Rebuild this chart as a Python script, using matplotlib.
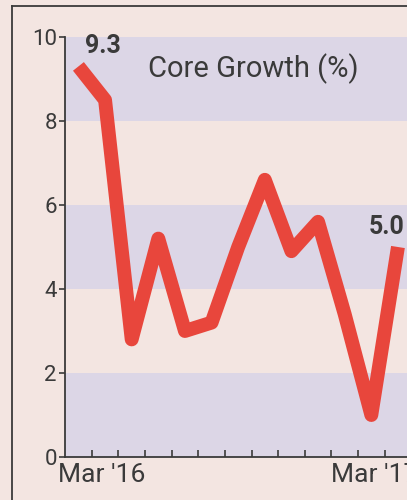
import matplotlib.pyplot as plt
from matplotlib.lines import Line2D
import matplotlib.transforms as mtransforms

months = ["Mar '16", "Apr", "May", "Jun", "Jul", "Aug", "Sep",
          "Oct", "Nov", "Dec", "Jan", "Feb", "Mar '17"]
growth = [9.3, 8.5, 2.8, 5.2, 3.0, 3.2, 5.0, 6.6, 4.9, 5.6, 3.4, 1.0, 5.0]
y_ticks = [0, 2, 4, 6, 8, 10]
bands = [(0, 2), (4, 6), (8, 10)]

paper = '#f3e5e1'
band_color = '#dcd6e6'
red = '#e8463c'
ink = '#3a3a3a'

plt.rcParams['font.family'] = ['Roboto', 'DejaVu Sans']

fig = plt.figure(figsize=(4.07, 5.0), dpi=100, facecolor=paper)
ax = fig.add_axes([0.160, 0.086, 0.840, 0.840])
ax.set_facecolor(paper)

x = list(range(len(growth)))

# horizontal bands
for lo, hi in bands:
    ax.axhspan(lo, hi, color=band_color, zorder=0, lw=0)

ax.plot(x, growth, color=red, lw=10, solid_joinstyle='round',
        solid_capstyle='butt', zorder=3)

ax.set_xlim(-0.5, 12.34)
ax.set_ylim(0, 10)

for s in ['top', 'right']:
    ax.spines[s].set_visible(False)
for s in ['left', 'bottom']:
    ax.spines[s].set_color(ink)
    ax.spines[s].set_linewidth(1.3)

ax.set_yticks(y_ticks)
ax.set_yticklabels([str(v) for v in y_ticks])
ax.tick_params(axis='y', direction='out', length=4, width=1.2, color=ink,
               labelsize=16, labelcolor=ink, pad=2)

# month separators on x axis
ax.set_xticks([i + 0.5 for i in range(12)])
ax.set_xticklabels([])
ax.tick_params(axis='x', direction='in', length=5, width=1.2, color=ink)

# x labels for first and last month
trans = mtransforms.blended_transform_factory(ax.transData, ax.transAxes)
ax.text(-0.75, -0.015, months[0], transform=trans, ha='left', va='top',
        fontsize=19, color=ink)
ax.text(9.5, -0.015, months[-1], transform=trans, ha='left', va='top',
        fontsize=19, color=ink)

# value labels
ax.text(0.25, 9.5, f'{growth[0]:.1f}', ha='left', va='bottom', fontsize=18,
        fontweight='bold', color=ink)
ax.text(12.25, 5.2, f'{growth[-1]:.1f}', ha='right', va='bottom',
        fontsize=18, fontweight='bold', color=ink)

ax.text(0.55, 0.925, 'Core Growth (%)', transform=ax.transAxes, ha='center',
        va='center', fontsize=21, color=ink)

# page frame
fig.add_artist(Line2D([12 / 407, 12 / 407], [0, 1 - 6 / 500],
                      transform=fig.transFigure, color=ink, lw=1.3))
fig.add_artist(Line2D([12 / 407, 1], [1 - 6 / 500, 1 - 6 / 500],
                      transform=fig.transFigure, color=ink, lw=1.3))

fig.savefig('out.png', dpi=100, facecolor=paper)
